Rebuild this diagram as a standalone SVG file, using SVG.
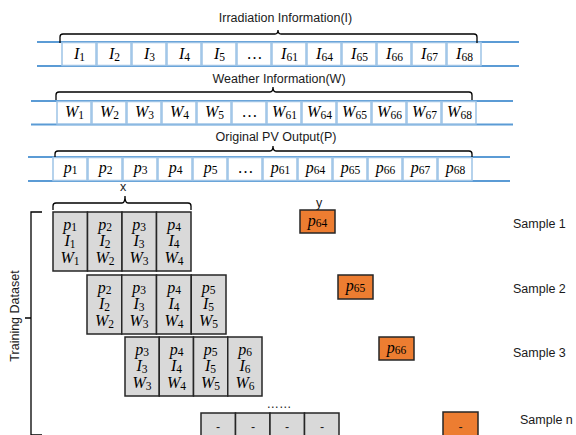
<svg xmlns="http://www.w3.org/2000/svg" width="576" height="435" viewBox="0 0 576 435">
<style>
.t{font-family:"Liberation Sans",Arial,sans-serif;font-size:12.5px;fill:#1a1a1a}
.m{font-family:"Liberation Serif","DejaVu Serif",serif;font-size:16px;text-anchor:middle;fill:#000}
.i{font-style:italic}
.s{font-size:11.5px;font-style:normal}
.bl{stroke:#5b9bd5;stroke-width:2;fill:none}
.bc{stroke:#9dc3e6;stroke-width:1.5;fill:#fff}
.br{stroke:#000;stroke-width:1.3;fill:none}
.g{fill:#d9d9d9;stroke:#262626;stroke-width:1.5}
.o{fill:#ed7d31;stroke:#262626;stroke-width:1.5}
</style>
<rect width="576" height="435" fill="#fff"/>

<g id="row-I">
<text class="t" x="285.5" y="22" text-anchor="middle">Irradiation Information(I)</text>
<line class="bl" x1="37" y1="42" x2="519" y2="42"/>
<line class="bl" x1="37" y1="66" x2="519" y2="66"/>
<rect class="bc" x="62" y="42.5" width="34" height="23"/>
<rect class="bc" x="97" y="42.5" width="34" height="23"/>
<rect class="bc" x="132" y="42.5" width="34" height="23"/>
<rect class="bc" x="167" y="42.5" width="34" height="23"/>
<rect class="bc" x="202" y="42.5" width="34" height="23"/>
<rect class="bc" x="237" y="42.5" width="34" height="23"/>
<rect class="bc" x="272" y="42.5" width="34" height="23"/>
<rect class="bc" x="307" y="42.5" width="34" height="23"/>
<rect class="bc" x="342" y="42.5" width="34" height="23"/>
<rect class="bc" x="377" y="42.5" width="34" height="23"/>
<rect class="bc" x="412" y="42.5" width="34" height="23"/>
<rect class="bc" x="447" y="42.5" width="34" height="23"/>
<text class="m" x="79.5" y="59"><tspan class="i">I</tspan><tspan class="s" dy="2">1</tspan></text>
<text class="m" x="114.5" y="59"><tspan class="i">I</tspan><tspan class="s" dy="2">2</tspan></text>
<text class="m" x="149.5" y="59"><tspan class="i">I</tspan><tspan class="s" dy="2">3</tspan></text>
<text class="m" x="184.5" y="59"><tspan class="i">I</tspan><tspan class="s" dy="2">4</tspan></text>
<text class="m" x="219.5" y="59"><tspan class="i">I</tspan><tspan class="s" dy="2">5</tspan></text>
<text class="m" x="254.5" y="59" font-size="12">…</text>
<text class="m" x="289.5" y="59"><tspan class="i">I</tspan><tspan class="s" dy="2">61</tspan></text>
<text class="m" x="324.5" y="59"><tspan class="i">I</tspan><tspan class="s" dy="2">64</tspan></text>
<text class="m" x="359.5" y="59"><tspan class="i">I</tspan><tspan class="s" dy="2">65</tspan></text>
<text class="m" x="394.5" y="59"><tspan class="i">I</tspan><tspan class="s" dy="2">66</tspan></text>
<text class="m" x="429.5" y="59"><tspan class="i">I</tspan><tspan class="s" dy="2">67</tspan></text>
<text class="m" x="464.5" y="59"><tspan class="i">I</tspan><tspan class="s" dy="2">68</tspan></text>
</g>

<g id="row-W">
<text class="t" x="279" y="83" text-anchor="middle">Weather Information(W)</text>
<line class="bl" x1="31" y1="101" x2="513" y2="101"/>
<line class="bl" x1="31" y1="124.5" x2="513" y2="124.5"/>
<rect class="bc" x="57" y="101.5" width="34" height="22.5"/>
<rect class="bc" x="92" y="101.5" width="34" height="22.5"/>
<rect class="bc" x="127" y="101.5" width="34" height="22.5"/>
<rect class="bc" x="162" y="101.5" width="34" height="22.5"/>
<rect class="bc" x="197" y="101.5" width="34" height="22.5"/>
<rect class="bc" x="232" y="101.5" width="34" height="22.5"/>
<rect class="bc" x="267" y="101.5" width="34" height="22.5"/>
<rect class="bc" x="302" y="101.5" width="34" height="22.5"/>
<rect class="bc" x="337" y="101.5" width="34" height="22.5"/>
<rect class="bc" x="372" y="101.5" width="34" height="22.5"/>
<rect class="bc" x="407" y="101.5" width="34" height="22.5"/>
<rect class="bc" x="442" y="101.5" width="34" height="22.5"/>
<text class="m" x="74.5" y="117"><tspan class="i">W</tspan><tspan class="s" dy="2">1</tspan></text>
<text class="m" x="109.5" y="117"><tspan class="i">W</tspan><tspan class="s" dy="2">2</tspan></text>
<text class="m" x="144.5" y="117"><tspan class="i">W</tspan><tspan class="s" dy="2">3</tspan></text>
<text class="m" x="179.5" y="117"><tspan class="i">W</tspan><tspan class="s" dy="2">4</tspan></text>
<text class="m" x="214.5" y="117"><tspan class="i">W</tspan><tspan class="s" dy="2">5</tspan></text>
<text class="m" x="249.5" y="117" font-size="12">…</text>
<text class="m" x="284.5" y="117"><tspan class="i">W</tspan><tspan class="s" dy="2">61</tspan></text>
<text class="m" x="319.5" y="117"><tspan class="i">W</tspan><tspan class="s" dy="2">64</tspan></text>
<text class="m" x="354.5" y="117"><tspan class="i">W</tspan><tspan class="s" dy="2">65</tspan></text>
<text class="m" x="389.5" y="117"><tspan class="i">W</tspan><tspan class="s" dy="2">66</tspan></text>
<text class="m" x="424.5" y="117"><tspan class="i">W</tspan><tspan class="s" dy="2">67</tspan></text>
<text class="m" x="459.5" y="117"><tspan class="i">W</tspan><tspan class="s" dy="2">68</tspan></text>
</g>

<g id="row-P">
<text class="t" x="276" y="141" text-anchor="middle">Original PV Output(P)</text>
<line class="bl" x1="28" y1="157" x2="510" y2="157"/>
<line class="bl" x1="28" y1="181" x2="510" y2="181"/>
<rect class="bc" x="53" y="157.5" width="34" height="23"/>
<rect class="bc" x="88" y="157.5" width="34" height="23"/>
<rect class="bc" x="123" y="157.5" width="34" height="23"/>
<rect class="bc" x="158" y="157.5" width="34" height="23"/>
<rect class="bc" x="193" y="157.5" width="34" height="23"/>
<rect class="bc" x="228" y="157.5" width="34" height="23"/>
<rect class="bc" x="263" y="157.5" width="34" height="23"/>
<rect class="bc" x="298" y="157.5" width="34" height="23"/>
<rect class="bc" x="333" y="157.5" width="34" height="23"/>
<rect class="bc" x="368" y="157.5" width="34" height="23"/>
<rect class="bc" x="403" y="157.5" width="34" height="23"/>
<rect class="bc" x="438" y="157.5" width="34" height="23"/>
<text class="m" x="70.5" y="173"><tspan class="i">p</tspan><tspan class="s" dy="1">1</tspan></text>
<text class="m" x="105.5" y="173"><tspan class="i">p</tspan><tspan class="s" dy="1">2</tspan></text>
<text class="m" x="140.5" y="173"><tspan class="i">p</tspan><tspan class="s" dy="1">3</tspan></text>
<text class="m" x="175.5" y="173"><tspan class="i">p</tspan><tspan class="s" dy="1">4</tspan></text>
<text class="m" x="210.5" y="173"><tspan class="i">p</tspan><tspan class="s" dy="1">5</tspan></text>
<text class="m" x="245.5" y="173" font-size="12">…</text>
<text class="m" x="280.5" y="173"><tspan class="i">p</tspan><tspan class="s" dy="1">61</tspan></text>
<text class="m" x="315.5" y="173"><tspan class="i">p</tspan><tspan class="s" dy="1">64</tspan></text>
<text class="m" x="350.5" y="173"><tspan class="i">p</tspan><tspan class="s" dy="1">65</tspan></text>
<text class="m" x="385.5" y="173"><tspan class="i">p</tspan><tspan class="s" dy="1">66</tspan></text>
<text class="m" x="420.5" y="173"><tspan class="i">p</tspan><tspan class="s" dy="1">67</tspan></text>
<text class="m" x="455.5" y="173"><tspan class="i">p</tspan><tspan class="s" dy="1">68</tspan></text>
</g>

<g id="braces">
<path class="br" d="M60,43 V37 Q60,34 63,34 H275 Q278,34 278,30 Q278,34 281,34 H474 Q477,34 477,37 V43"/>
<path class="br" d="M56,100 V95 Q56,92 59,92 H270 Q273,92 273,87 Q273,92 276,92 H469 Q472,92 472,95 V100"/>
<path class="br" d="M55,157 V154 Q55,151 58,151 H270 Q273,151 273,146 Q273,151 276,151 H469 Q472,151 472,154 V157"/>
<path class="br" d="M53,210 V206 Q53,203 56,203 H122 Q125,203 125,196 Q125,203 128,203 H188 Q191,203 191,206 V210"/>
<path class="br" d="M42,212 H31 V435 H42 M31,318 H25"/>
</g>

<text class="t" x="123" y="191" text-anchor="middle" font-size="11">x</text>
<text class="t" x="319" y="207" text-anchor="middle" font-size="11">y</text>
<text class="t" transform="translate(19,316) rotate(-90)" text-anchor="middle">Training Dataset</text>

<g id="sample1">
<rect class="g" x="53" y="212" width="34.5" height="59"/>
<rect class="g" x="87.5" y="212" width="34.5" height="59"/>
<rect class="g" x="122" y="212" width="34.5" height="59"/>
<rect class="g" x="156.5" y="212" width="34.5" height="59"/>
<text class="m" x="70" y="230"><tspan class="i">p</tspan><tspan class="s" dy="1">1</tspan></text>
<text class="m" x="70" y="246"><tspan class="i">I</tspan><tspan class="s" dy="2">1</tspan></text>
<text class="m" x="70" y="263"><tspan class="i">W</tspan><tspan class="s" dy="2">1</tspan></text>
<text class="m" x="105" y="230"><tspan class="i">p</tspan><tspan class="s" dy="1">2</tspan></text>
<text class="m" x="105" y="246"><tspan class="i">I</tspan><tspan class="s" dy="2">2</tspan></text>
<text class="m" x="105" y="263"><tspan class="i">W</tspan><tspan class="s" dy="2">2</tspan></text>
<text class="m" x="139" y="230"><tspan class="i">p</tspan><tspan class="s" dy="1">3</tspan></text>
<text class="m" x="139" y="246"><tspan class="i">I</tspan><tspan class="s" dy="2">3</tspan></text>
<text class="m" x="139" y="263"><tspan class="i">W</tspan><tspan class="s" dy="2">3</tspan></text>
<text class="m" x="174" y="230"><tspan class="i">p</tspan><tspan class="s" dy="1">4</tspan></text>
<text class="m" x="174" y="246"><tspan class="i">I</tspan><tspan class="s" dy="2">4</tspan></text>
<text class="m" x="174" y="263"><tspan class="i">W</tspan><tspan class="s" dy="2">4</tspan></text>
<rect class="o" x="300" y="210" width="35" height="23"/>
<text class="m" x="317.5" y="226"><tspan class="i">p</tspan><tspan class="s" dy="1">64</tspan></text>
<text class="t" x="513" y="228">Sample 1</text>
</g>

<g id="sample2">
<rect class="g" x="87" y="275" width="34.75" height="59"/>
<rect class="g" x="121.75" y="275" width="34.75" height="59"/>
<rect class="g" x="156.5" y="275" width="34.75" height="59"/>
<rect class="g" x="191.25" y="275" width="34.75" height="59"/>
<text class="m" x="104.5" y="293"><tspan class="i">p</tspan><tspan class="s" dy="1">2</tspan></text>
<text class="m" x="104.5" y="309"><tspan class="i">I</tspan><tspan class="s" dy="2">2</tspan></text>
<text class="m" x="104.5" y="326"><tspan class="i">W</tspan><tspan class="s" dy="2">2</tspan></text>
<text class="m" x="139" y="293"><tspan class="i">p</tspan><tspan class="s" dy="1">3</tspan></text>
<text class="m" x="139" y="309"><tspan class="i">I</tspan><tspan class="s" dy="2">3</tspan></text>
<text class="m" x="139" y="326"><tspan class="i">W</tspan><tspan class="s" dy="2">3</tspan></text>
<text class="m" x="174" y="293"><tspan class="i">p</tspan><tspan class="s" dy="1">4</tspan></text>
<text class="m" x="174" y="309"><tspan class="i">I</tspan><tspan class="s" dy="2">4</tspan></text>
<text class="m" x="174" y="326"><tspan class="i">W</tspan><tspan class="s" dy="2">4</tspan></text>
<text class="m" x="208.5" y="293"><tspan class="i">p</tspan><tspan class="s" dy="1">5</tspan></text>
<text class="m" x="208.5" y="309"><tspan class="i">I</tspan><tspan class="s" dy="2">5</tspan></text>
<text class="m" x="208.5" y="326"><tspan class="i">W</tspan><tspan class="s" dy="2">5</tspan></text>
<rect class="o" x="338" y="275" width="35" height="24"/>
<text class="m" x="355.5" y="291"><tspan class="i">p</tspan><tspan class="s" dy="1">65</tspan></text>
<text class="t" x="513" y="293">Sample 2</text>
</g>

<g id="sample3">
<rect class="g" x="125" y="337" width="34.25" height="59"/>
<rect class="g" x="159.25" y="337" width="34.25" height="59"/>
<rect class="g" x="193.5" y="337" width="34.25" height="59"/>
<rect class="g" x="227.75" y="337" width="34.25" height="59"/>
<text class="m" x="142" y="355"><tspan class="i">p</tspan><tspan class="s" dy="1">3</tspan></text>
<text class="m" x="142" y="371"><tspan class="i">I</tspan><tspan class="s" dy="2">3</tspan></text>
<text class="m" x="142" y="388"><tspan class="i">W</tspan><tspan class="s" dy="2">3</tspan></text>
<text class="m" x="176.5" y="355"><tspan class="i">p</tspan><tspan class="s" dy="1">4</tspan></text>
<text class="m" x="176.5" y="371"><tspan class="i">I</tspan><tspan class="s" dy="2">4</tspan></text>
<text class="m" x="176.5" y="388"><tspan class="i">W</tspan><tspan class="s" dy="2">4</tspan></text>
<text class="m" x="210.5" y="355"><tspan class="i">p</tspan><tspan class="s" dy="1">5</tspan></text>
<text class="m" x="210.5" y="371"><tspan class="i">I</tspan><tspan class="s" dy="2">5</tspan></text>
<text class="m" x="210.5" y="388"><tspan class="i">W</tspan><tspan class="s" dy="2">5</tspan></text>
<text class="m" x="245" y="355"><tspan class="i">p</tspan><tspan class="s" dy="1">6</tspan></text>
<text class="m" x="245" y="371"><tspan class="i">I</tspan><tspan class="s" dy="2">6</tspan></text>
<text class="m" x="245" y="388"><tspan class="i">W</tspan><tspan class="s" dy="2">6</tspan></text>
<rect class="o" x="379" y="337" width="35" height="23"/>
<text class="m" x="396.5" y="353"><tspan class="i">p</tspan><tspan class="s" dy="1">66</tspan></text>
<text class="t" x="513" y="357">Sample 3</text>
</g>

<g id="sampleN">
<text class="t" x="279" y="408" text-anchor="middle" font-size="10">……</text>
<rect class="g" x="201" y="413" width="34.5" height="30"/>
<rect class="g" x="235.5" y="413" width="34.5" height="30"/>
<rect class="g" x="270" y="413" width="34.5" height="30"/>
<rect class="g" x="304.5" y="413" width="34.5" height="30"/>
<text class="t" x="218" y="431" text-anchor="middle" font-size="11">-</text>
<text class="t" x="253" y="431" text-anchor="middle" font-size="11">-</text>
<text class="t" x="287" y="431" text-anchor="middle" font-size="11">-</text>
<text class="t" x="322" y="431" text-anchor="middle" font-size="11">-</text>
<rect class="o" x="443" y="412" width="35" height="30"/>
<text class="t" x="460.5" y="431" text-anchor="middle" font-size="11">-</text>
<text class="t" x="520" y="424">Sample n</text>
</g>
</svg>
